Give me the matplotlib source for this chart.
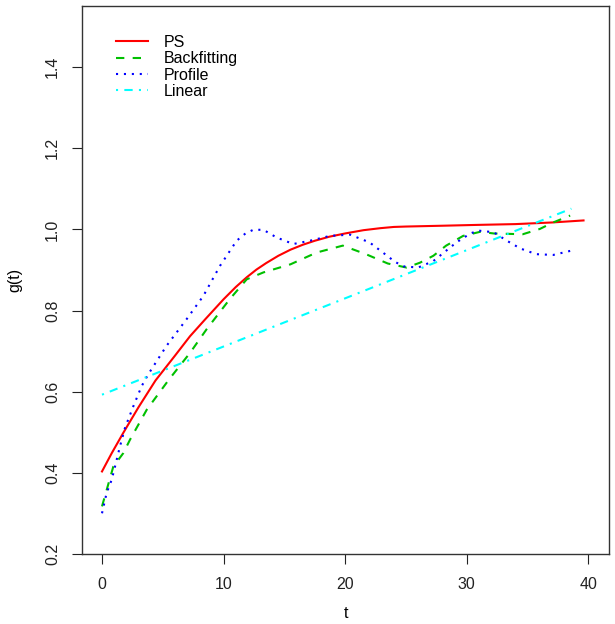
"""Estimated g(t) curves: PS, backfitting, profile and linear fits."""
import matplotlib
matplotlib.use("Agg")
import matplotlib.pyplot as plt

plt.rcParams["font.family"] = ["Liberation Sans", "DejaVu Sans"]

# values
ps_t = [0, 0.8, 1.75, 3, 4.4, 6, 7.24, 8.5, 10, 11, 11.9, 12.7, 13.5, 14.5,
        15.5, 16.5, 17.5, 18.7, 20, 21.5, 22.9, 24, 25, 28, 30.8, 34, 37, 39.6]
ps_g = [0.404, 0.449, 0.499, 0.562, 0.628, 0.689, 0.737, 0.779, 0.828, 0.858,
        0.882, 0.901, 0.917, 0.935, 0.950, 0.962, 0.972, 0.982, 0.990, 0.998,
        1.003, 1.006, 1.007, 1.009, 1.011, 1.013, 1.017, 1.022]

bf_t = [0, 0.93, 1.75, 2.3, 3.68, 5.5, 7.24, 8.6, 10.5, 11.9, 13.27, 15.5,
        17.65, 19.8, 21.7, 23.5, 25.05, 26.15, 27.25, 28.3, 29.7, 31.1, 32.2,
        34.6, 36.0, 37.1, 38.5]
bf_g = [0.318, 0.416, 0.449, 0.482, 0.556, 0.630, 0.696, 0.754, 0.828, 0.877,
        0.894, 0.914, 0.943, 0.960, 0.939, 0.916, 0.906, 0.918, 0.935, 0.960,
        0.984, 0.994, 0.990, 0.988, 1.001, 1.017, 1.034]

pr_t = [0, 0.38, 0.79, 1.07, 1.48, 1.89, 2.57, 3.26, 3.8, 5.3, 6.96, 8.33,
        9.7, 11.07, 11.8, 12.44, 13.27, 14.36, 15.73, 17.1, 18.75, 20.4, 22.0,
        23.1, 24.1, 24.8, 26.0, 27.25, 28.2, 29.2, 30.3, 30.95, 32.2, 33.3,
        34.4, 35.7, 37.1, 38.5]
pr_g = [0.301, 0.351, 0.383, 0.416, 0.466, 0.511, 0.564, 0.614, 0.643, 0.713,
        0.779, 0.836, 0.910, 0.972, 0.990, 0.999, 0.999, 0.980, 0.964, 0.972,
        0.984, 0.987, 0.968, 0.943, 0.920, 0.909, 0.906, 0.922, 0.945, 0.969,
        0.990, 0.997, 0.993, 0.972, 0.953, 0.939, 0.937, 0.947]

lin_t = [0, 38.6]
lin_g = [0.593, 1.051]

labels = ["PS", "Backfitting", "Profile", "Linear"]
x_ticks = [0, 10, 20, 30, 40]
y_ticks = [0.2, 0.4, 0.6, 0.8, 1.0, 1.2, 1.4]

W, H = 615, 624
fig = plt.figure(figsize=(W / 100, H / 100), dpi=100)
ax = fig.add_axes([82.3 / W, 1 - 554.3 / H, (608.7 - 82.3) / W, (554.3 - 6) / H])

lw = 1.5
ax.plot(ps_t, ps_g, color="red", lw=lw, label=labels[0])
ax.plot(bf_t, bf_g, color="#00c000", lw=lw, dashes=(4, 4), label=labels[1])
ax.plot(pr_t, pr_g, color="blue", lw=lw, dashes=(1, 2.8), label=labels[2])
ax.plot(lin_t, lin_g, color="cyan", lw=lw, dashes=(1, 3, 4, 3), label=labels[3])

ax.set_xlim(-1.62, 41.67)
ax.set_ylim(0.2, 1.55)
ax.set_xticks(x_ticks)
ax.set_xticklabels([str(v) for v in x_ticks])
ax.set_yticks(y_ticks)
ax.set_yticklabels([f"{v:.1f}" for v in y_ticks], rotation=90, va="center")
ax.tick_params(axis="both", direction="out", length=7, width=0.8, labelsize=11.5,
               colors="#222222")
ax.tick_params(axis="x", pad=9)
ax.tick_params(axis="y", pad=9)
for s in ax.spines.values():
    s.set_linewidth(1.0)
    s.set_color("#333333")

fig.text(0.5 * (82.3 + 608.7) / W, 1 - 613 / H, "t", ha="center", va="center",
         fontsize=11.5)
fig.text(15 / W, 1 - 280 / H, "g(t)", ha="center", va="center", rotation=90,
         fontsize=11.5)

ax.legend(loc="upper left", bbox_to_anchor=(116 / W, 1 - 35 / H),
          bbox_transform=fig.transFigure, frameon=False, fontsize=11.5,
          handlelength=2.0, handletextpad=1.0, labelspacing=0.08,
          borderpad=0, borderaxespad=0)

fig.savefig("out.png", dpi=100)
